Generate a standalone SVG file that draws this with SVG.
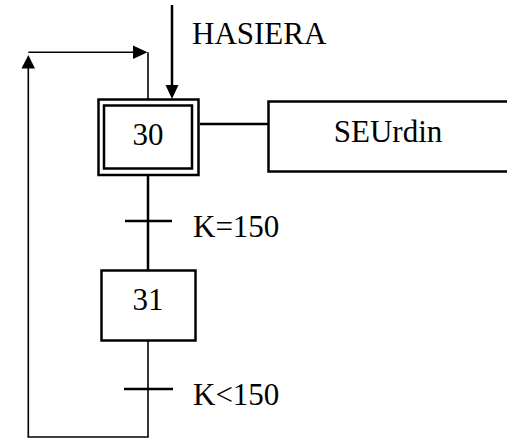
<svg xmlns="http://www.w3.org/2000/svg" width="507" height="439" viewBox="0 0 507 439">
<style>
  text { font-family: 'Liberation Serif', 'DejaVu Serif', serif; font-size: 31px; fill: #000; }
  .box { fill: #fff; stroke: #000; stroke-width: 2.5; }
  .thick { stroke: #000; stroke-width: 2.5; fill: none; }
  .thin { stroke: #000; stroke-width: 1.6; fill: none; }
  .head { fill: #000; stroke: none; }
</style>
<rect width="507" height="439" fill="#fff"/>
<g id="connectors">
  <line class="thick" x1="172" y1="5" x2="172" y2="88"/>
  <path class="head" d="M165.5,85 L178.5,85 L172,99 Z"/>
  <line class="thin" x1="148" y1="99" x2="148" y2="52.3"/>
  <line class="thin" x1="28.3" y1="52.3" x2="136" y2="52.3"/>
  <path class="head" d="M133,45.5 L147.5,52.3 L133,59 Z"/>
  <line class="thin" x1="28.3" y1="437" x2="28.3" y2="66"/>
  <path class="head" d="M21.5,68.5 L28.3,55 L35,68.5 Z"/>
  <line class="thin" x1="27.5" y1="437" x2="148.8" y2="437"/>
  <line class="thick" x1="200" y1="124" x2="268" y2="124"/>
  <line class="thick" x1="148" y1="175" x2="148" y2="270"/>
  <line class="thick" x1="125" y1="221" x2="172" y2="221"/>
  <line class="thin" x1="148" y1="340" x2="148" y2="437"/>
  <line class="thick" x1="124" y1="389" x2="173" y2="389"/>
</g>
<g id="label-hasiera"><text x="192" y="44">HASIERA</text></g>
<g id="step30">
  <rect class="box" x="98.5" y="99.5" width="100" height="75.5"/>
  <rect class="box" x="104" y="105.5" width="88" height="63"/>
  <text x="148" y="145" text-anchor="middle">30</text>
</g>
<g id="action-seurdin">
  <rect class="box" x="268.5" y="101.5" width="245" height="70"/>
  <text x="388" y="142" text-anchor="middle">SEUrdin</text>
</g>
<g id="transition-k150"><text x="193" y="237">K=150</text></g>
<g id="step31">
  <rect class="box" x="101.5" y="270.5" width="94" height="70"/>
  <text x="148" y="310" text-anchor="middle">31</text>
</g>
<g id="transition-klt150"><text x="193" y="405">K&lt;150</text></g>
</svg>
